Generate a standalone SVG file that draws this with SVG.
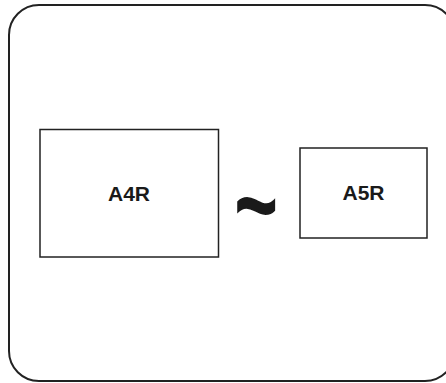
<svg xmlns="http://www.w3.org/2000/svg" width="446" height="383" viewBox="0 0 446 383">
<style>
.box{fill:none;stroke:#222;stroke-width:1.5}
.lbl{font-family:"Liberation Sans",Arial,sans-serif;font-weight:bold;font-size:21px;fill:#1a1a1a;text-anchor:middle}
</style>
<rect width="446" height="383" fill="#fff"/>
<g id="frame"><rect x="9" y="5" width="446" height="376" rx="30" ry="30" fill="none" stroke="#222" stroke-width="2"/></g>
<g id="a4r"><rect class="box" x="40" y="129.5" width="178.5" height="127.5"/><text class="lbl" x="129" y="201">A4R</text></g>
<g id="a5r"><rect class="box" x="300" y="148" width="127" height="90"/><text class="lbl" x="363.5" y="200">A5R</text></g>
<g id="connectors"><text transform="translate(256,202) scale(1.1,1.7)" x="0" y="24.5" font-family="Liberation Sans,Arial,sans-serif" font-weight="bold" font-size="68" text-anchor="middle" fill="#1a1a1a">~</text></g>
</svg>
